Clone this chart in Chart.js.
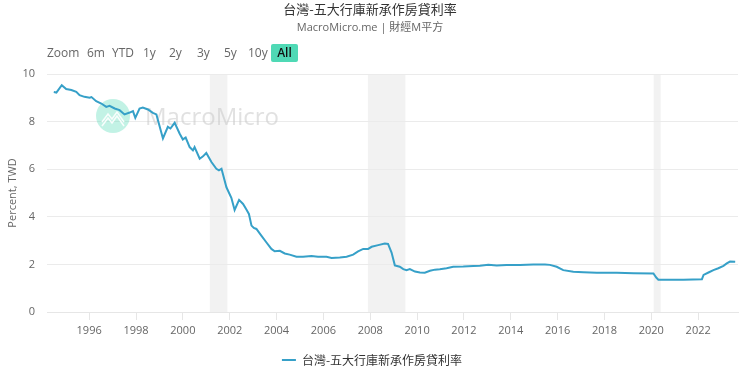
<!DOCTYPE html>
<html>
<head>
<meta charset="utf-8">
<script src="https://cdn.jsdelivr.net/npm/chart.js@4.4.0/dist/chart.umd.min.js"></script>
<style>
  body { margin: 0; background: #fff; }
  #wrap { position: relative; width: 740px; height: 378px; font-family: 'Open Sans', 'Noto Sans CJK TC', sans-serif; }
  #title { position: absolute; left: 0; top: 0; width: 740px; text-align: center; font: 13px 'Noto Sans CJK TC', sans-serif; color: #333; line-height: 18px; }
  #subtitle { position: absolute; left: 0; top: 19px; width: 740px; text-align: center; font: 11px 'Open Sans', 'Noto Sans CJK TC', sans-serif; color: #666; line-height: 16px; }
  .btn { position: absolute; top: 44px; height: 18px; line-height: 18px; font-size: 12px; color: #666; }
  .btn.on { background: #4fd9b5; color: #111; font-weight: 600; border-radius: 2px; text-align: center; width: 27px; }
  #chart { position: absolute; left: 0; top: 0; }
</style>
</head>
<body>
<div id="wrap">
  <canvas id="chart" width="740" height="378"></canvas>
  <div id="title">台灣-五大行庫新承作房貸利率</div>
  <div id="subtitle">MacroMicro.me | 財經M平方</div>
  <div class="btn" style="left:47px">Zoom</div>
  <div class="btn" style="left:87px">6m</div>
  <div class="btn" style="left:112px">YTD</div>
  <div class="btn" style="left:143px">1y</div>
  <div class="btn" style="left:169px">2y</div>
  <div class="btn" style="left:197px">3y</div>
  <div class="btn" style="left:224px">5y</div>
  <div class="btn" style="left:248px">10y</div>
  <div class="btn on" style="left:271px">All</div>
</div>
<script>
//DATA
const seriesName = '台灣-五大行庫新承作房貸利率';
const dates = [
  1994.49, 1994.60, 1994.83, 1995.02, 1995.24, 1995.45, 1995.59, 1995.80, 1996.02, 1996.10,
  1996.30, 1996.52, 1996.73, 1996.87, 1997.09, 1997.30, 1997.51, 1997.73, 1997.87, 1997.97,
  1998.15, 1998.29, 1998.51, 1998.72, 1998.87, 1999.15, 1999.36, 1999.47, 1999.65, 1999.86,
  2000.00, 2000.12, 2000.29, 2000.43, 2000.50, 2000.72, 2000.86, 2001.00, 2001.22, 2001.43,
  2001.54, 2001.65, 2001.86, 2002.07, 2002.21, 2002.40, 2002.57, 2002.70, 2002.82, 2002.93,
  2003.03, 2003.14, 2003.35, 2003.57, 2003.78, 2003.92, 2004.14, 2004.35, 2004.56, 2004.85,
  2005.13, 2005.49, 2005.77, 2006.13, 2006.35, 2006.70, 2006.99, 2007.27, 2007.48, 2007.70,
  2007.91, 2008.06, 2008.34, 2008.62, 2008.76, 2008.91, 2009.05, 2009.26, 2009.41, 2009.55,
  2009.69, 2009.91, 2010.12, 2010.33, 2010.55, 2010.76, 2010.97, 2011.26, 2011.54, 2011.97,
  2012.40, 2012.68, 2013.04, 2013.40, 2013.82, 2014.39, 2014.96, 2015.46, 2015.67, 2015.96,
  2016.24, 2016.67, 2017.10, 2017.67, 2018.53, 2019.24, 2020.09, 2020.21, 2020.30, 2020.80,
  2021.37, 2022.16, 2022.23, 2022.44, 2022.65, 2022.86, 2023.08, 2023.22, 2023.36, 2023.58
];
const rates = [
  9.24, 9.22, 9.53, 9.37, 9.33, 9.25, 9.11, 9.04, 9.00, 9.03,
  8.86, 8.76, 8.62, 8.66, 8.55, 8.48, 8.30, 8.38, 8.44, 8.16,
  8.55, 8.59, 8.51, 8.37, 8.30, 7.29, 7.78, 7.71, 7.95, 7.50,
  7.25, 7.33, 6.93, 6.79, 6.93, 6.44, 6.54, 6.68, 6.30, 6.02,
  5.95, 6.02, 5.24, 4.80, 4.29, 4.71, 4.54, 4.33, 4.12, 3.63,
  3.53, 3.49, 3.21, 2.92, 2.65, 2.55, 2.57, 2.46, 2.41, 2.32,
  2.32, 2.35, 2.32, 2.32, 2.27, 2.29, 2.32, 2.41, 2.55, 2.65,
  2.65, 2.74, 2.81, 2.88, 2.86, 2.50, 1.96, 1.90, 1.80, 1.76,
  1.80, 1.70, 1.66, 1.65, 1.73, 1.78, 1.80, 1.84, 1.90, 1.91,
  1.93, 1.94, 1.98, 1.95, 1.97, 1.98, 2.00, 2.00, 1.98, 1.90,
  1.76, 1.69, 1.67, 1.65, 1.65, 1.63, 1.62, 1.45, 1.36, 1.36,
  1.36, 1.38, 1.56, 1.66, 1.76, 1.84, 1.94, 2.04, 2.12, 2.11
];
// recession bands (start, end)
const bandStarts = [2001.15, 2007.90, 2020.10];
const bandEnds   = [2001.90, 2009.50, 2020.40];
const xTickYears = [1996, 1998, 2000, 2002, 2004, 2006, 2008, 2010, 2012, 2014, 2016, 2018, 2020, 2022];

const lineColor = '#36a0c8';
const tickFont = { family: "'Liberation Sans Narrow', 'Open Sans', sans-serif", size: 11 };

//PLUGINS
const bandsPlugin = {
  id: 'bands',
  beforeDraw(chart) {
    const { ctx, chartArea, scales } = chart;
    ctx.save();
    ctx.fillStyle = '#f2f2f2';
    bandStarts.forEach((s, i) => {
      const x1 = scales.x.getPixelForValue(s);
      const x2 = scales.x.getPixelForValue(bandEnds[i]);
      ctx.fillRect(x1, chartArea.top, x2 - x1, chartArea.bottom - chartArea.top);
    });
    ctx.restore();
  }
};

const watermarkPlugin = {
  id: 'watermark',
  beforeDatasetsDraw(chart) {
    const { ctx, chartArea } = chart;
    const cx = chartArea.left + 66, cy = chartArea.top + 42;
    ctx.save();
    ctx.fillStyle = 'rgba(79,217,181,0.35)';
    ctx.beginPath();
    ctx.arc(cx, cy, 17, 0, Math.PI * 2);
    ctx.fill();
    ctx.strokeStyle = 'rgba(255,255,255,0.9)';
    ctx.lineWidth = 1.5;
    ctx.beginPath();
    ctx.moveTo(cx - 11, cy + 6);
    ctx.lineTo(cx - 5, cy - 2);
    ctx.lineTo(cx - 1, cy + 3);
    ctx.lineTo(cx + 4, cy - 4);
    ctx.lineTo(cx + 11, cy + 6);
    ctx.stroke();
    ctx.beginPath();
    ctx.moveTo(cx - 11, cy + 10);
    ctx.lineTo(cx - 5, cy + 2);
    ctx.lineTo(cx - 1, cy + 7);
    ctx.lineTo(cx + 4, cy);
    ctx.lineTo(cx + 11, cy + 10);
    ctx.stroke();
    ctx.fillStyle = 'rgba(200,200,200,0.55)';
    ctx.font = "24px 'Open Sans', sans-serif";
    ctx.textBaseline = 'middle';
    ctx.fillText('MacroMicro', cx + 32, cy + 2);
    ctx.restore();
  }
};

//CHART
const points = dates.map((d, i) => ({ x: d, y: rates[i] }));

new Chart(document.querySelector('#chart'), {
  type: 'line',
  data: {
    datasets: [{
      label: seriesName,
      data: points,
      borderColor: lineColor,
      backgroundColor: lineColor,
      borderWidth: 2,
      pointRadius: 0,
      pointStyle: 'line',
      tension: 0
    }]
  },
  options: {
    responsive: false,
    animation: false,
    layout: { padding: { top: 74, right: 2, bottom: 2, left: 6 } },
    plugins: {
      title: { display: false },
      tooltip: { enabled: false },
      legend: {
        position: 'bottom',
        labels: {
          usePointStyle: true,
          pointStyleWidth: 14,
          padding: 12,
          color: '#333',
          font: { family: "'Noto Sans CJK TC', sans-serif", size: 12 }
        }
      }
    },
    scales: {
      x: {
        type: 'linear',
        min: 1994.2,
        max: 2023.7,
        afterBuildTicks: axis => { axis.ticks = xTickYears.map(v => ({ value: v })); },
        afterFit: axis => { axis.height = 30; },
        ticks: {
          color: '#666',
          font: tickFont,
          maxRotation: 0,
          autoSkip: false,
          padding: 4,
          callback: v => String(v)
        },
        grid: { drawOnChartArea: false, tickLength: 8, color: '#e6e6e6' },
        border: { color: '#e6e6e6' }
      },
      y: {
        min: 0,
        max: 10,
        afterFit: axis => { axis.width = 41; },
        ticks: { stepSize: 2, color: '#666', font: tickFont, padding: 12 },
        grid: { color: '#ebebeb', drawTicks: false },
        border: { display: false },
        title: {
          display: true,
          text: 'Percent, TWD',
          color: '#666',
          font: tickFont,
          padding: { top: 0, bottom: 2 }
        }
      }
    }
  },
  plugins: [bandsPlugin, watermarkPlugin]
});
</script>
</body>
</html>
